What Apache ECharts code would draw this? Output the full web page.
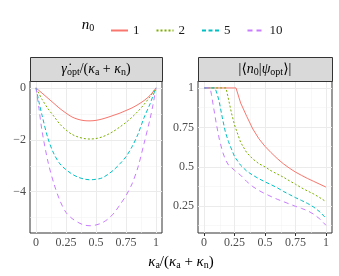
<!DOCTYPE html>
<html>
<head>
<meta charset="utf-8">
<script src="https://cdn.jsdelivr.net/npm/echarts@6/dist/echarts.min.js"></script>
<style>
html,body{margin:0;padding:0;background:#fff;}
#c{width:339px;height:276px;}
</style>
</head>
<body>
<div id="c"></div>
<script>
// ---- data ----
const seriesNames = ['1', '2', '5', '10'];
const xLeft = [0, 0.025, 0.05, 0.1, 0.15, 0.2, 0.25, 0.3, 0.35, 0.4, 0.45, 0.5, 0.55, 0.6, 0.65, 0.7, 0.75, 0.8, 0.85, 0.9, 0.95, 0.975, 1];
const gamma1 = [0, -0.1, -0.2, -0.4, -0.6, -0.8, -0.97, -1.12, -1.21, -1.26, -1.27, -1.25, -1.2, -1.13, -1.05, -0.97, -0.87, -0.77, -0.64, -0.49, -0.29, -0.15, 0];
const gamma2 = [0, -0.22, -0.44, -0.8, -1.1, -1.4, -1.62, -1.79, -1.89, -1.95, -1.97, -1.95, -1.89, -1.79, -1.66, -1.5, -1.33, -1.13, -0.9, -0.64, -0.34, -0.17, 0];
const gamma5 = [0, -0.55, -1.05, -1.95, -2.55, -2.93, -3.15, -3.32, -3.44, -3.51, -3.54, -3.52, -3.47, -3.33, -3.15, -2.92, -2.65, -2.27, -1.78, -1.15, -0.62, -0.3, 0];
const gamma10 = [0, -0.8, -1.65, -2.85, -3.7, -4.35, -4.8, -5.03, -5.18, -5.28, -5.31, -5.28, -5.2, -5.05, -4.82, -4.5, -4.15, -3.7, -3.05, -2.15, -1.2, -0.65, 0];

const ovX1 = [0, 0.262, 0.3, 0.35, 0.4, 0.45, 0.5, 0.55, 0.6, 0.65, 0.7, 0.75, 0.8, 0.85, 0.9, 0.95, 1];
const ov1 = [1, 1, 0.905, 0.82, 0.74, 0.678, 0.63, 0.59, 0.553, 0.52, 0.492, 0.467, 0.446, 0.426, 0.408, 0.39, 0.372];
const ovX2 = [0, 0.18, 0.2, 0.225, 0.25, 0.3, 0.35, 0.4, 0.45, 0.5, 0.55, 0.6, 0.65, 0.7, 0.75, 0.8, 0.85, 0.9, 0.95, 1];
const ov2 = [1, 1, 0.93, 0.84, 0.765, 0.655, 0.59, 0.55, 0.52, 0.5, 0.475, 0.455, 0.435, 0.412, 0.39, 0.367, 0.347, 0.328, 0.305, 0.28];
const ovX5 = [0, 0.09, 0.11, 0.125, 0.15, 0.175, 0.2, 0.25, 0.3, 0.35, 0.4, 0.45, 0.5, 0.55, 0.6, 0.65, 0.7, 0.75, 0.8, 0.85, 0.9, 0.95, 1];
const ov5 = [1, 1, 0.955, 0.91, 0.81, 0.72, 0.66, 0.565, 0.51, 0.473, 0.447, 0.425, 0.405, 0.387, 0.368, 0.345, 0.325, 0.305, 0.287, 0.268, 0.245, 0.215, 0.175];
const ovX10 = [0, 0.05, 0.06, 0.075, 0.1, 0.125, 0.15, 0.175, 0.2, 0.25, 0.3, 0.35, 0.4, 0.45, 0.5, 0.55, 0.6, 0.65, 0.7, 0.75, 0.8, 0.85, 0.9, 0.95, 1];
const ov10 = [1, 1, 0.96, 0.89, 0.775, 0.675, 0.6, 0.545, 0.512, 0.478, 0.447, 0.407, 0.375, 0.35, 0.33, 0.312, 0.295, 0.28, 0.265, 0.25, 0.237, 0.222, 0.2, 0.17, 0.13];

const xTicks = [0, 0.25, 0.5, 0.75, 1];
const xMinor = [0.125, 0.375, 0.625, 0.875];
const yTicksLeft = [-4, -2, 0];
const yMinorLeft = [-5, -3, -1];
const yTicksRight = [0.25, 0.5, 0.75, 1];
const yMinorRight = [0.125, 0.375, 0.625, 0.875];

// ---- styling ----
const colors = ['#F8766D', '#7CAE00', '#00BFC4', '#C77CFF'];
const dashes = ['solid', [2, 2], [4, 2.5], [5, 4]];
const FONT = '"Liberation Serif", "DejaVu Serif", serif';
const zip = (xs, ys) => xs.map((x, i) => [x, ys[i]]);
const leftData = [gamma1, gamma2, gamma5, gamma10].map(ys => zip(xLeft, ys));
const rightData = [zip(ovX1, ov1), zip(ovX2, ov2), zip(ovX5, ov5), zip(ovX10, ov10)];

function gridLines(xMaj, xMin, yMaj, yMin) {
  const maj = {lineStyle: {color: '#EBEBEB', width: 1, type: 'solid'}};
  const mnr = {lineStyle: {color: '#F4F4F4', width: 0.6, type: 'solid'}};
  const d = [];
  xMin.forEach(v => d.push(Object.assign({xAxis: v}, mnr)));
  yMin.forEach(v => d.push(Object.assign({yAxis: v}, mnr)));
  xMaj.forEach(v => d.push(Object.assign({xAxis: v}, maj)));
  yMaj.forEach(v => d.push(Object.assign({yAxis: v}, maj)));
  return {silent: true, symbol: ['none', 'none'], label: {show: false}, z: 1, animation: false, data: d};
}

const labelStyle = {color: '#4D4D4D', fontFamily: FONT, fontSize: 12};
function xAx(gi) {
  return {
    type: 'value', gridIndex: gi, min: -0.05, max: 1.05,
    axisLine: {show: false}, splitLine: {show: false},
    axisTick: {show: true, length: 3, lineStyle: {color: '#333'}, customValues: xTicks},
    axisLabel: Object.assign({margin: 4, customValues: xTicks, formatter: v => String(v)}, labelStyle)
  };
}
function yAx(gi, min, max, ticks) {
  return {
    type: 'value', gridIndex: gi, min: min, max: max,
    axisLine: {show: false}, splitLine: {show: false},
    axisTick: {show: true, length: 3, lineStyle: {color: '#333'}, customValues: ticks},
    axisLabel: Object.assign({margin: 4, customValues: ticks, formatter: v => String(v).replace('-', '\u2212')}, labelStyle)
  };
}

const series = [];
[0, 1].forEach(gi => {
  seriesNames.forEach((n, k) => {
    const s = {
      name: n, type: 'line', xAxisIndex: gi, yAxisIndex: gi,
      data: gi === 0 ? leftData[k] : rightData[k],
      showSymbol: false, symbol: 'none', smooth: gi === 0 ? 0.3 : false,
      lineStyle: {color: colors[k], width: 1, type: dashes[k]},
      itemStyle: {color: colors[k]},
      z: 3, animation: false
    };
    if (k === 0) {
      s.markLine = gi === 0 ? gridLines(xTicks, xMinor, yTicksLeft, yMinorLeft)
                            : gridLines(xTicks, xMinor, yTicksRight, yMinorRight);
    }
    series.push(s);
  });
});

const rich = {
  i: {fontFamily: FONT, fontStyle: 'italic', fontSize: 14, color: '#1A1A1A'},
  n: {fontFamily: FONT, fontSize: 14, color: '#1A1A1A'},
  s: {fontFamily: FONT, fontSize: 10, color: '#1A1A1A', padding: [6, 0, 0, 0]}
};
const richBig = {
  i: {fontFamily: FONT, fontStyle: 'italic', fontSize: 15, color: '#000'},
  n: {fontFamily: FONT, fontSize: 15, color: '#000'},
  s: {fontFamily: FONT, fontSize: 10, color: '#000', padding: [7, 0, 0, 0]}
};

const P1 = {x: 30, w: 132}, P2 = {x: 198, w: 134};
const stripTop = 57, stripH = 24;

const chart = echarts.init(document.getElementById('c'), null, {renderer: 'canvas'});
chart.setOption({
  animation: false,
  backgroundColor: '#fff',
  color: colors,
  legend: {
    data: seriesNames, left: 105, top: 19, itemWidth: 17, itemHeight: 10, itemGap: 16,
    itemStyle: {opacity: 0, borderWidth: 0},
    textStyle: {fontFamily: FONT, fontSize: 13, color: '#1A1A1A'},
    selectedMode: false
  },
  grid: [
    {left: P1.x, top: 81, width: P1.w, height: 152, show: true, backgroundColor: '#fff', borderColor: '#333', borderWidth: 1},
    {left: P2.x, top: 81, width: P2.w, height: 152, show: true, backgroundColor: '#fff', borderColor: '#333', borderWidth: 1}
  ],
  xAxis: [xAx(0), xAx(1)],
  yAxis: [yAx(0, -5.59, 0.266, yTicksLeft), yAx(1, 0.081, 1.044, yTicksRight)],
  series: series,
  graphic: [
    {type: 'rect', shape: {x: P1.x + 0.5, y: stripTop + 0.5, width: P1.w, height: stripH}, style: {fill: '#D9D9D9', stroke: '#333', lineWidth: 1}, z: 10},
    {type: 'rect', shape: {x: P2.x + 0.5, y: stripTop + 0.5, width: P2.w, height: stripH}, style: {fill: '#D9D9D9', stroke: '#333', lineWidth: 1}, z: 10},
    {type: 'text', x: P1.x + P1.w / 2, y: stripTop + stripH / 2, z: 11,
      style: {text: '{i|\u03B3\u0307}{s|opt}{n|/(}{i|\u03BA}{s|a}{n| + }{i|\u03BA}{s|n}{n|)}', rich: rich, align: 'center', verticalAlign: 'middle'}},
    {type: 'text', x: P2.x + P2.w / 2, y: stripTop + stripH / 2, z: 11,
      style: {text: '{n||\u27E8}{i|n}{s|0}{n||}{i|\u03C8}{s|opt}{n|\u27E9|}', rich: rich, align: 'center', verticalAlign: 'middle'}},
    {type: 'text', x: 181, y: 262, z: 11,
      style: {text: '{i|\u03BA}{s|a}{n|/(}{i|\u03BA}{s|a}{n| + }{i|\u03BA}{s|n}{n|)}', rich: richBig, align: 'center', verticalAlign: 'middle'}},
    {type: 'text', x: 88, y: 25, z: 11,
      style: {text: '{i|n}{s|0}', rich: richBig, align: 'center', verticalAlign: 'middle'}}
  ]
});
</script>
</body>
</html>
